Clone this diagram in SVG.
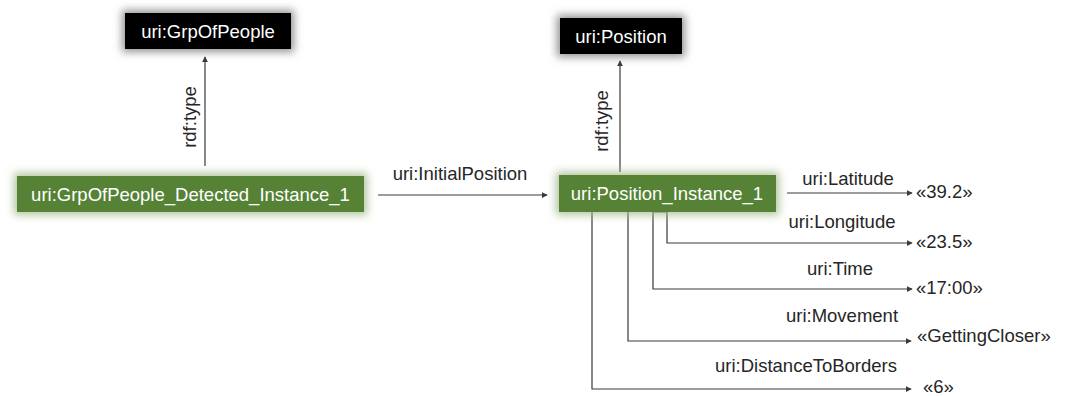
<svg xmlns="http://www.w3.org/2000/svg" width="1078" height="396" viewBox="0 0 1078 396">
<style>
.lbl{font-family:"Liberation Sans",Arial,sans-serif;font-size:18.5px;fill:#262626}
.nt{font-family:"Liberation Sans",Arial,sans-serif;font-size:18.5px;fill:#ffffff;text-anchor:middle}
.cls{fill:#000000;filter:url(#glowK)}
.ins{fill:#548235;filter:url(#glowG)}
.edge{fill:none;stroke:#3a3a3a;stroke-width:1.2;marker-end:url(#arr)}
</style>
<defs>
<marker id="arr" viewBox="0 0 8 8" refX="7" refY="4" markerWidth="6" markerHeight="6" markerUnits="userSpaceOnUse" orient="auto">
<path d="M0,0 L8,4 L0,8 z" fill="#3a3a3a"/>
</marker>
<filter id="glowK" x="-30%" y="-80%" width="160%" height="260%">
<feMorphology in="SourceAlpha" operator="dilate" radius="3" result="d"/>
<feGaussianBlur in="d" stdDeviation="4" result="b"/>
<feFlood flood-color="#7f7f7f" flood-opacity="0.85"/>
<feComposite in2="b" operator="in" result="g"/>
<feMerge><feMergeNode in="g"/><feMergeNode in="SourceGraphic"/></feMerge>
</filter>
<filter id="glowG" x="-30%" y="-80%" width="160%" height="260%">
<feMorphology in="SourceAlpha" operator="dilate" radius="3" result="d"/>
<feGaussianBlur in="d" stdDeviation="4" result="b"/>
<feFlood flood-color="#a3bb8c" flood-opacity="0.85"/>
<feComposite in2="b" operator="in" result="g"/>
<feMerge><feMergeNode in="g"/><feMergeNode in="SourceGraphic"/></feMerge>
</filter>
</defs>
<rect width="1078" height="396" fill="#ffffff"/>

<g id="connectors">
<path class="edge" d="M205,166 V57"/>
<text class="lbl" transform="translate(196,117) rotate(-90)" text-anchor="middle">rdf:type</text>
<path class="edge" d="M620,172 V61"/>
<text class="lbl" transform="translate(608,121) rotate(-90)" text-anchor="middle">rdf:type</text>
<path class="edge" d="M378,195 H547"/>
<text class="lbl" x="460" y="180" text-anchor="middle">uri:InitialPosition</text>
<path class="edge" d="M787,193 H912"/>
<text class="lbl" x="848" y="185" text-anchor="middle">uri:Latitude</text>
<path class="edge" d="M653,212 H667 V243 H912"/>
<text class="lbl" x="842" y="228" text-anchor="middle">uri:Longitude</text>
<path class="edge" d="M653,212 V289 H912"/>
<text class="lbl" x="840" y="275" text-anchor="middle">uri:Time</text>
<path class="edge" d="M628,212 V341 H911"/>
<text class="lbl" x="842" y="322" text-anchor="middle">uri:Movement</text>
<path class="edge" d="M592,212 V389 H911"/>
<text class="lbl" x="806" y="372" text-anchor="middle">uri:DistanceToBorders</text>
</g>

<g id="node-grpofpeople">
<rect class="cls" x="125" y="13" width="166" height="36"/>
<text class="nt" x="208" y="37.5">uri:GrpOfPeople</text>
</g>
<g id="node-position">
<rect class="cls" x="560" y="18" width="122" height="36"/>
<text class="nt" x="621" y="42.5">uri:Position</text>
</g>
<g id="node-grp-instance">
<rect class="ins" x="17" y="176" width="347" height="36"/>
<text class="nt" x="190.5" y="200.5">uri:GrpOfPeople_Detected_Instance_1</text>
</g>
<g id="node-pos-instance">
<rect class="ins" x="559" y="175" width="217" height="37"/>
<text class="nt" x="667" y="199.5">uri:Position_Instance_1</text>
</g>
<g id="lit-lat"><text class="lbl" x="916" y="198">«39.2»</text></g>
<g id="lit-lon"><text class="lbl" x="916" y="248">«23.5»</text></g>
<g id="lit-time"><text class="lbl" x="916" y="294">«17:00»</text></g>
<g id="lit-move"><text class="lbl" x="917" y="342">«GettingCloser»</text></g>
<g id="lit-dist"><text class="lbl" x="923" y="393">«6»</text></g>
</svg>
